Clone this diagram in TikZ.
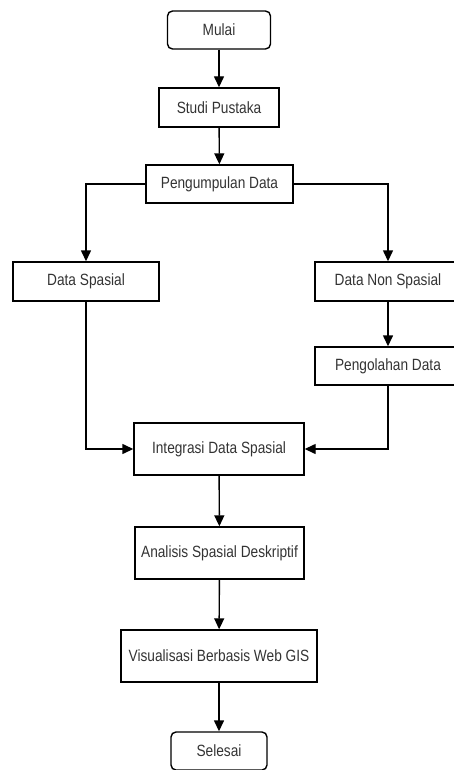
\documentclass[tikz,border=0pt]{standalone}
\usepackage{fontspec}
\setmainfont[FakeStretch=0.84]{Liberation Sans}
\usepackage{tikz}
\usetikzlibrary{arrows.meta}
\tikzset{proses/.style={draw, line width=1.4pt, inner sep=0, font=\fontsize{16.3}{19}\selectfont, text=black!80}}
\tikzset{terminal/.style={proses, rounded corners=5pt}}
\tikzset{every edge/.style={draw, line width=1.4pt, -{Triangle[width=10pt,length=11pt]}}}

\begin{document}
\begin{tikzpicture}[x=1pt, y=-1pt]
  \useasboundingbox (0,0) rectangle (454,770);
  \node[terminal, minimum width=103pt, minimum height=38pt] at (219, 30) (mulai) {Mulai};
  \node[proses, minimum width=120pt, minimum height=39pt] at (219, 107.5) (studi) {Studi Pustaka};
  \node[proses, minimum width=147pt, minimum height=38pt] at (219.5, 184) (kumpul) {Pengumpulan Data};

  \node[proses, minimum width=146pt, minimum height=39pt] at (86, 281.5) (spasial) {Data Spasial};
  \node[proses, minimum width=146pt, minimum height=39pt] at (388, 281.5) (nonspasial) {Data Non Spasial};
  \node[proses, minimum width=146pt, minimum height=38pt] at (388, 366) (olah) {Pengolahan Data};

  \node[proses, minimum width=170pt, minimum height=52pt] at (219, 449) (integrasi) {Integrasi Data Spasial};
  \node[proses, minimum width=169pt, minimum height=52pt] at (219.5, 553) (analisis) {Analisis Spasial Deskriptif};
  \node[proses, minimum width=196pt, minimum height=52pt] at (219, 656) (visual) {Visualisasi Berbasis Web GIS};
  \node[terminal, minimum width=96pt, minimum height=38pt] at (219, 751) (selesai) {Selesai};

    \draw (mulai) edge (studi);
    \draw (studi) edge (kumpul);

    \draw (kumpul.west) edge[to path={-| (\tikztotarget)}] (spasial.north);
    \draw (kumpul.east) edge[to path={-| (\tikztotarget)}] (nonspasial.north);
    \draw (nonspasial) edge (olah);

    \draw (spasial.south) edge[to path={|- (\tikztotarget)}] (integrasi.west);
    \draw (olah.south) edge[to path={|- (\tikztotarget)}] (integrasi.east);

    \draw (integrasi) edge (analisis);
    \draw (analisis) edge (visual);
    \draw (visual) edge (selesai);
  \end{tikzpicture}
\end{document}
